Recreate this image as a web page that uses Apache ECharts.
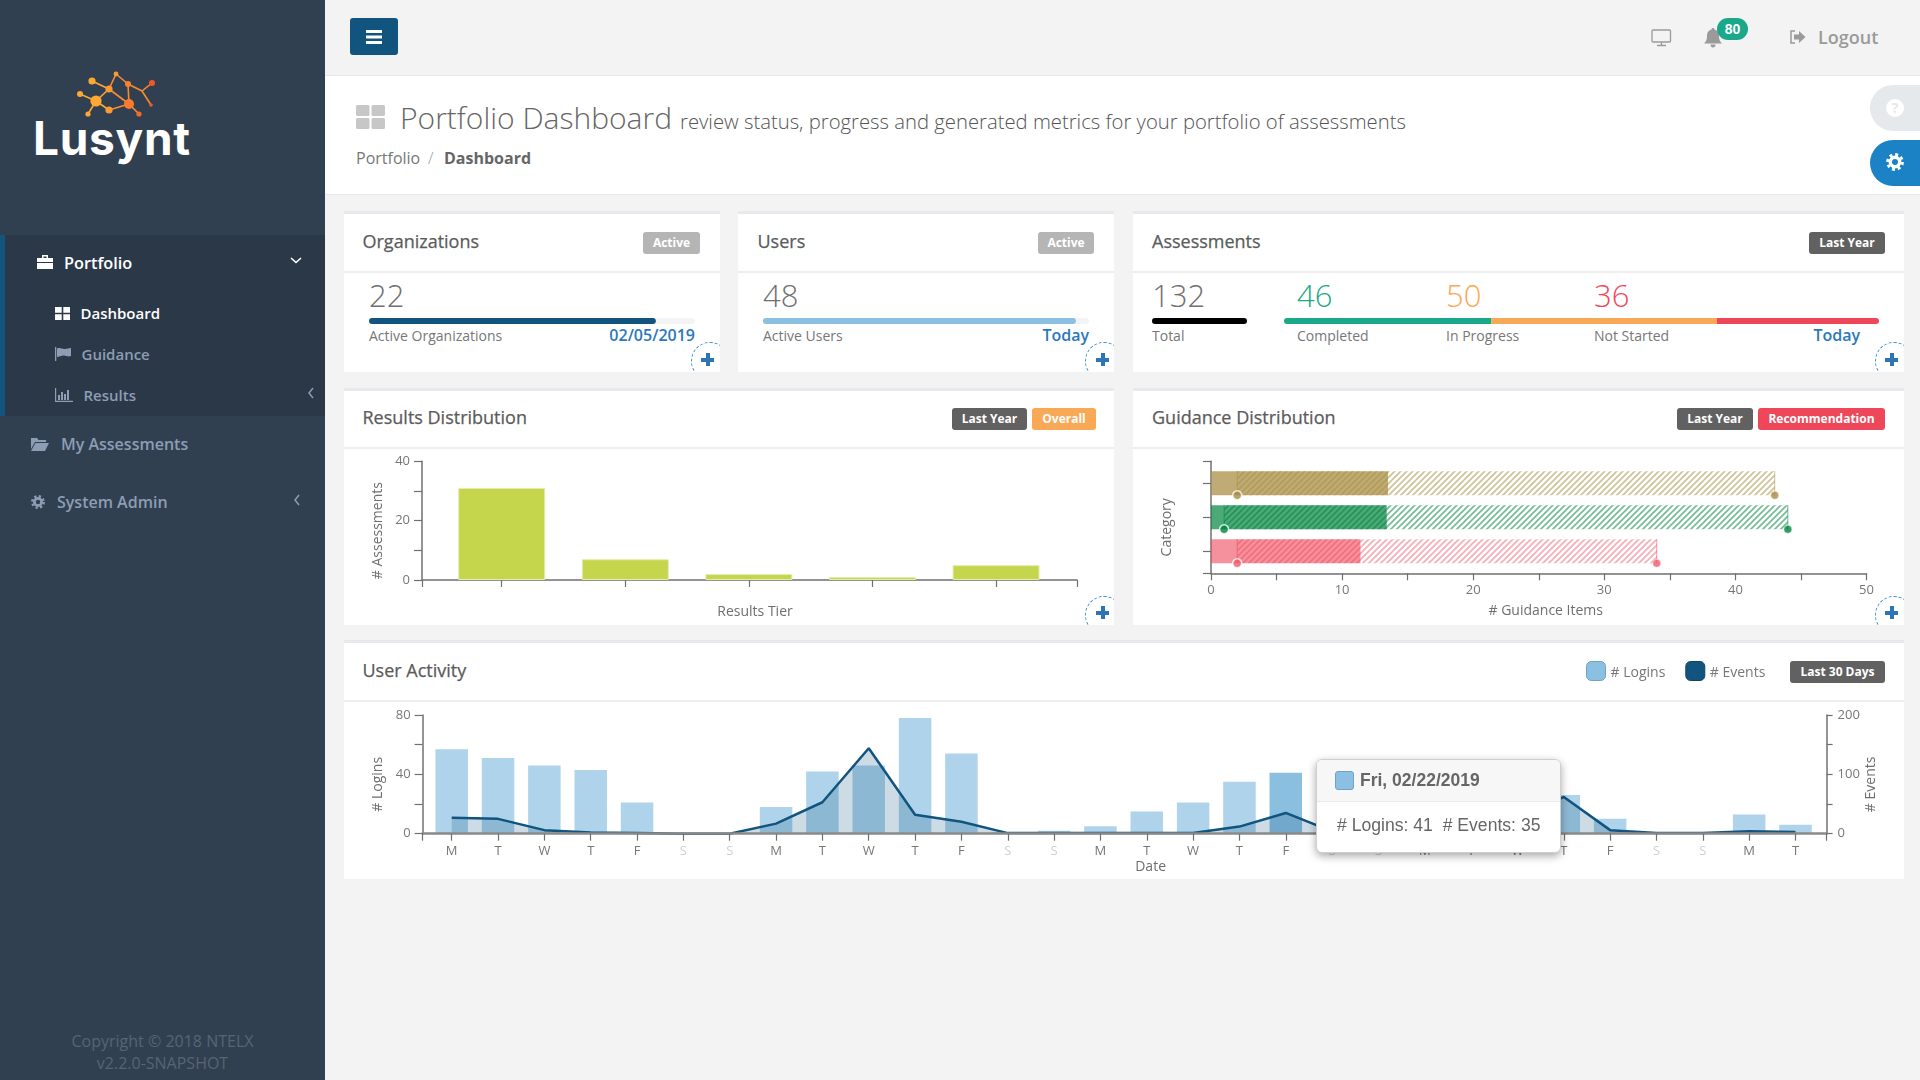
<!DOCTYPE html>
<html><head><meta charset="utf-8"><title>Portfolio Dashboard</title>
<script src="https://cdn.jsdelivr.net/npm/echarts@6/dist/echarts.min.js"></script>
<style>
html,body{margin:0;padding:0;width:1920px;height:1080px;overflow:hidden;background:#f3f3f3;font-family:"Open Sans",sans-serif;color:#666}
.a{position:absolute}
.t{position:absolute;white-space:nowrap;line-height:1;transform:translateY(-50%)}
.card{position:absolute;background:#fff;border-top:3px solid #e8e9ec;overflow:hidden;box-sizing:border-box}
.card .div{position:absolute;left:0;right:0;height:2px;background:#eeeeee}
.plus{position:absolute;width:38px;height:38px;border:1px dashed #3a8fc9;border-radius:50%;box-sizing:border-box}
.plusg{position:absolute;width:13px;height:13px}
.plusg:before,.plusg:after{content:"";position:absolute;background:#2d75b6}
.plusg:before{left:0;right:0;top:5px;height:3.5px}
.plusg:after{top:0;bottom:0;left:5px;width:3.5px}
.badge{position:absolute;height:22px;line-height:21px;border-radius:3px;color:#fff;font-weight:700;font-size:12px;text-align:center;box-sizing:border-box}
.h{font-size:18px;font-weight:400;color:#5b5b5b;-webkit-text-stroke:.25px #5b5b5b}
.big{font-size:31px;font-weight:300;color:#707070}
.lab{font-size:14px;color:#777}
.link{font-size:16px;font-weight:600;color:#2a78bd}
.nav{color:#8d9db4;font-weight:600;font-size:16px}
#chart{position:absolute;left:0;top:0;width:1920px;height:1080px}
</style></head><body>

<!-- sidebar -->
<div class="a" style="left:0;top:0;width:325px;height:1080px;background:#314051"></div>
<div class="a" style="left:0;top:235px;width:325px;height:181px;background:#2a3848;border-left:5px solid #11557f;box-sizing:border-box"></div>
<svg class="a" style="left:0;top:0" width="325" height="170">
<g stroke-width="1.6" fill="none" transform="translate(0,3)">
<path stroke="#ffa733" d="M92 78L109 86M80 91L96 98M96 98L109 86M96 98L88 111M96 98L109 107"/>
<path stroke="#fb8a30" d="M109 107L129 101M129 101L139 111M109 86L116 71M116 71L128 81M109 86L129 101M128 81L129 101M128 81L142 88M142 88L152 80M142 88L151 102"/>
</g>
<g transform="translate(0,3)"><circle cx="92" cy="78" r="3.6" fill="#ffa733"/><circle cx="80" cy="91" r="3" fill="#ffa733"/><circle cx="96" cy="98" r="5.6" fill="#ffa733"/><circle cx="88" cy="111" r="2.6" fill="#ffa733"/><circle cx="109" cy="86" r="3.6" fill="#fb9a33"/><circle cx="116" cy="71" r="2.4" fill="#fb9a33"/><circle cx="128" cy="81" r="3" fill="#fb8030"/><circle cx="129" cy="101" r="5" fill="#fb7a30"/><circle cx="109" cy="107" r="3.6" fill="#fb9a33"/><circle cx="139" cy="111" r="2.6" fill="#f56a2c"/><circle cx="152" cy="80" r="3" fill="#f4552b"/><circle cx="151" cy="102" r="1.8" fill="#f4552b"/></g>
</svg>
<div class="t" style="left:33px;top:138px;font-family:Inter,sans-serif;font-weight:700;font-size:46px;color:#fff;letter-spacing:.7px">Lusynt</div>

<svg class="a" style="left:36px;top:254px" width="18" height="16"><path fill="#fff" d="M1 4h16v4H1zM1 9h16v6H1zM6 4V1h6v3h-1.5V2.5h-3V4z"/></svg>
<div class="t nav" style="left:64px;top:263px;color:#fff;font-size:16.3px">Portfolio</div>
<svg class="a" style="left:290px;top:256px" width="12" height="10"><path d="M1 2l5 4.5L11 2" fill="none" stroke="#fff" stroke-width="1.6"/></svg>
<svg class="a" style="left:55px;top:307px" width="15" height="13"><path fill="#fff" d="M0 0h6.7v5.7H0zM8.3 0H15v5.7H8.3zM0 7.3h6.7V13H0zM8.3 7.3H15V13H8.3z"/></svg>
<div class="t nav" style="left:80.5px;top:313px;color:#fff;font-size:15px">Dashboard</div>
<svg class="a" style="left:55px;top:347px" width="16" height="14"><path fill="#8d9db4" d="M0 0h1.3v14H0zM2 1.5c4-1.5 5 1.5 9.500 .3L16 1v8c-4 1.500-5-1.500-9.500 0L2 10z"/></svg>
<div class="t nav" style="left:81.5px;top:354px;font-size:15px">Guidance</div>
<svg class="a" style="left:55px;top:388px" width="18" height="14"><path fill="#8d9db4" d="M0 0h1.200v12.800H18V14H0zM3 7h2v5H3zM6 4h2v8H6zM9 6h2v6H9zM12 2h2v10h-2z"/></svg>
<div class="t nav" style="left:83.5px;top:395px;font-size:15px">Results</div>
<svg class="a" style="left:307px;top:387px" width="8" height="12"><path d="M6 1L2 6l4 5" fill="none" stroke="#8d9db4" stroke-width="1.500"/></svg>
<svg class="a" style="left:31px;top:436px" width="18" height="15"><path fill="#8d9db4" d="M0 2h6l1.500 2H15v2H4L0 13zM4.500 7H18l-4 8H0z"/></svg>
<div class="t nav" style="left:61px;top:444px">My Assessments</div>
<svg class="a" style="left:31px;top:495px" width="14" height="14"><circle cx="7" cy="7" r="3.600" fill="none" stroke="#8d9db4" stroke-width="2.800"/><circle cx="7" cy="7" r="5.800" fill="none" stroke="#8d9db4" stroke-width="2.300" stroke-dasharray="2.280 2.280"/></svg>
<div class="t nav" style="left:57px;top:502px">System Admin</div>
<svg class="a" style="left:293px;top:494px" width="8" height="12"><path d="M6 1L2 6l4 5" fill="none" stroke="#8d9db4" stroke-width="1.500"/></svg>
<div class="t" style="left:0;width:325px;text-align:center;top:1041px;font-size:16px;color:#566474">Copyright © 2018 NTELX</div>
<div class="t" style="left:0;width:325px;text-align:center;top:1063px;font-size:16px;color:#566474">v2.2.0-SNAPSHOT</div>

<!-- top bar -->
<div class="a" style="left:350px;top:18px;width:48px;height:37px;background:#11557f;border-radius:3px"></div>
<div class="a" style="left:366px;top:30px;width:16px;height:3px;background:#fff;box-shadow:0 5.500px 0 #fff,0 11px 0 #fff"></div>
<svg class="a" style="left:1651px;top:29px" width="21" height="18"><rect x="1" y="1" width="18.500" height="12" rx="1" fill="none" stroke="#9a9a9a" stroke-width="1.300"/><path d="M6 16.500h9M10.500 13v3" stroke="#9a9a9a" stroke-width="1.300"/></svg>
<svg class="a" style="left:1704px;top:28px" width="18" height="20"><path fill="#9a9a9a" d="M9 0c1 0 1.500 .6 1.500 1.500C14 2.500 15 5 15 8c0 4 1 5.500 3 7.500H0C2 13.500 3 12 3 8c0-3 1-5.500 4.500-6.500C7.500 .6 8 0 9 0zM6.500 16.500h5c0 1.800-1 3-2.500 3s-2.500-1.200-2.500-3z"/></svg>
<div class="a" style="left:1717px;top:18px;width:31px;height:22px;border-radius:11px;background:#1aa88a;color:#fff;font-family:'Liberation Sans',sans-serif;font-weight:700;font-size:14px;line-height:22px;text-align:center">80</div>
<svg class="a" style="left:1789px;top:30px" width="17" height="14"><path d="M6 1H2v12h4" fill="none" stroke="#9a9a9a" stroke-width="1.500"/><path fill="#9a9a9a" d="M5 4.500h5V1l6.500 6-6.500 6V9.500H5z"/></svg>
<div class="t" style="left:1818px;top:37px;font-size:18px;font-weight:600;color:#9a9a9a">Logout</div>

<!-- page head -->
<div class="a" style="left:325px;top:75px;width:1595px;height:120px;background:#fff;border-top:1px solid #e8e8e8;border-bottom:1px solid #e8e8e8;box-sizing:border-box"></div>
<svg class="a" style="left:356px;top:105px" width="29" height="24"><g fill="#c7c7c7"><rect width="13.500" height="11" rx="1.500"/><rect x="15.500" width="13.500" height="11" rx="1.500"/><rect y="13" width="13.500" height="11" rx="1.500"/><rect x="15.500" y="13" width="13.500" height="11" rx="1.500"/></g></svg>
<div class="t" style="left:400px;top:118px;font-size:30px;font-weight:300;color:#666">Portfolio Dashboard</div>
<div class="t" style="left:680px;top:121px;font-size:20.27px;font-weight:300;color:#555">review status, progress and generated metrics for your portfolio of assessments</div>
<div class="t" style="left:356px;top:158px;font-size:16px;font-weight:400;color:#777">Portfolio</div>
<div class="t" style="left:428px;top:158px;font-size:16px;font-weight:300;color:#999">/</div>
<div class="t" style="left:444px;top:158px;font-size:16px;font-weight:700;color:#666">Dashboard</div>
<div class="a" style="left:1870px;top:85px;width:50px;height:46px;background:#e6e9ec;border-radius:23px 0 0 23px"></div>
<div class="a" style="left:1886px;top:99px;width:18px;height:18px;border-radius:50%;background:#fff;color:#e6e9ec;font-weight:700;font-size:14px;line-height:18px;text-align:center">?</div>
<div class="a" style="left:1870px;top:140px;width:50px;height:46px;background:#1b82c6;border-radius:23px 0 0 23px"></div>
<svg class="a" style="left:1886px;top:153px" width="18" height="18"><circle cx="9" cy="9" r="4.700" fill="none" stroke="#fff" stroke-width="3.400"/><circle cx="9" cy="9" r="7.500" fill="none" stroke="#fff" stroke-width="2.800" stroke-dasharray="2.950 2.940"/></svg>

<!-- cards -->
<div class="card" style="left:344px;top:211px;width:376px;height:161px"><div class="div" style="top:57px"></div><div class="plus" style="left:347px;top:128px"></div><div class="plusg" style="left:357px;top:139px"></div></div>
<div class="card" style="left:738px;top:211px;width:376px;height:161px"><div class="div" style="top:57px"></div><div class="plus" style="left:347px;top:128px"></div><div class="plusg" style="left:358px;top:139px"></div></div>
<div class="card" style="left:1133px;top:211px;width:771px;height:161px"><div class="div" style="top:57px"></div><div class="plus" style="left:742px;top:128px"></div><div class="plusg" style="left:752px;top:139px"></div></div>
<div class="card" style="left:344px;top:388px;width:770px;height:237px"><div class="div" style="top:56px"></div><div class="plus" style="left:741px;top:205px"></div><div class="plusg" style="left:752px;top:215px"></div></div>
<div class="card" style="left:1133px;top:388px;width:771px;height:237px"><div class="div" style="top:56px"></div><div class="plus" style="left:742px;top:205px"></div><div class="plusg" style="left:752px;top:215px"></div></div>
<div class="card" style="left:344px;top:640px;width:1560px;height:239px"><div class="div" style="top:57px"></div></div>

<div class="t h" style="left:362.5px;top:241px">Organizations</div>
<div class="badge" style="left:643px;top:232px;width:57px;background:#b5b5b5">Active</div>
<div class="t big" style="left:369px;top:295px">22</div>
<div class="t lab" style="left:369px;top:336px">Active Organizations</div>
<div class="t link" style="right:1225px;top:335px">02/05/2019</div>

<div class="t h" style="left:757.5px;top:241px">Users</div>
<div class="badge" style="left:1038px;top:232px;width:56px;background:#b5b5b5">Active</div>
<div class="t big" style="left:763px;top:295px">48</div>
<div class="t lab" style="left:763px;top:336px">Active Users</div>
<div class="t link" style="right:831px;top:335px">Today</div>

<div class="t h" style="left:1152px;top:241px">Assessments</div>
<div class="badge" style="left:1809px;top:232px;width:76px;background:#616161">Last Year</div>
<div class="t big" style="left:1152px;top:295px">132</div>
<div class="t lab" style="left:1152px;top:336px">Total</div>
<div class="t big" style="left:1297px;top:295px;color:#1aa88a">46</div>
<div class="t lab" style="left:1297px;top:336px">Completed</div>
<div class="t big" style="left:1446px;top:295px;color:#f9a956">50</div>
<div class="t lab" style="left:1446px;top:336px">In Progress</div>
<div class="t big" style="left:1594px;top:295px;color:#ef475a">36</div>
<div class="t lab" style="left:1594px;top:336px">Not Started</div>
<div class="t link" style="right:60px;top:335px">Today</div>

<div class="t h" style="left:362.5px;top:417px">Results Distribution</div>
<div class="badge" style="left:952px;top:408px;width:75px;background:#616161">Last Year</div>
<div class="badge" style="left:1032px;top:408px;width:64px;background:#f9a956">Overall</div>
<div class="t h" style="left:1152px;top:417px">Guidance Distribution</div>
<div class="badge" style="left:1677px;top:408px;width:76px;background:#616161">Last Year</div>
<div class="badge" style="left:1758px;top:408px;width:127px;background:#ef475a">Recommendation</div>
<div class="t h" style="left:362.5px;top:670px">User Activity</div>
<div class="badge" style="left:1790px;top:661px;width:95px;background:#616161">Last 30 Days</div>

<div id="chart"></div>
<script>
// ---- data ----
const orgActive = [22], orgTotal = 25;
const userActive = [48], userTotal = 50;
const assessmentTotal = [132];
const assessmentCompleted = [46];
const assessmentInProgress = [50];
const assessmentNotStarted = [36];

const resultTiers = [0, 1, 2, 3, 4];
const resultCounts = [31, 7, 2, 1, 5];

const guidanceCategories = ['Category A', 'Category B', 'Category C'];
const guidanceSolid = [13.5, 13.4, 11.4];
const guidanceRangeStart = [2, 1, 2];
const guidanceRangeEnd = [43, 44, 34];
const guidanceColors = ['169,143,68', '0,133,62', '239,71,90'];
const guidanceSolidAlpha = [.75, .7, .6];
const guidanceHatchAlpha = [.55, .55, .45];
const guidanceDots = ['#a68c43', '#00853e', '#ef5a6e'];

const dayLetters = ['M','T','W','T','F','S','S','M','T','W','T','F','S','S','M','T','W','T','F','S','S','M','T','W','T','F','S','S','M','T'];
const dayDates = ['02/04/2019','02/05/2019','02/06/2019','02/07/2019','02/08/2019','02/09/2019','02/10/2019','02/11/2019','02/12/2019','02/13/2019','02/14/2019','02/15/2019','02/16/2019','02/17/2019','02/18/2019','02/19/2019','02/20/2019','02/21/2019','02/22/2019','02/23/2019','02/24/2019','02/25/2019','02/26/2019','02/27/2019','02/28/2019','03/01/2019','03/02/2019','03/03/2019','03/04/2019','03/05/2019'];
const logins = [57,51,46,43,21,0,0,18,42,46,78,54,1,2,5,15,21,35,41,0,0,3,10,20,26,10,0,0,13,6];
const events = [27,25,6,2,1,0,0,17,53,144,32,20,1,1,1,1,1,12,35,4,0,0,5,25,62,6,1,1,4,3];
const focusDay = 18;

// ---- chart ----
const AX = '#707070', TXT = '#777';
const chart = echarts.init(document.getElementById('chart'), null, {renderer:'canvas', width:1920, height:1080});

function hatch(rgb,alpha){
  const c = document.createElement('canvas'); c.width = c.height = 6;
  const g = c.getContext('2d');
  g.strokeStyle = 'rgba(' + rgb + ',' + alpha + ')'; g.lineWidth = 1.7;
  [[-6,6,6,-6],[0,6,6,0],[0,12,12,0]].forEach(l => {g.beginPath(); g.moveTo(l[0],l[1]); g.lineTo(l[2],l[3]); g.stroke();});
  return {image:c, repeat:'repeat'};
}
const nameFont = {color:'#6f6f6f', fontFamily:'Open Sans', fontSize:14};
const labFont = {color:TXT, fontFamily:'Open Sans', fontSize:13};
const line = (w,c) => ({show:true, onZero:false, lineStyle:{color:c||AX, width:w||1.5}});
const tick = (len,vals) => { const t = {show:true, length:len||7, lineStyle:{color:AX, width:1.2}}; if(vals) t.customValues = vals; return t; };
const hiddenVal = (grid,max) => ({type:'value', gridIndex:grid, min:0, max:max, show:false, splitLine:{show:false}});
const hiddenCat = (grid,data,inv) => ({type:'category', gridIndex:grid, data:data, show:false, inverse:!!inv});

const resTicks = [-0.645].concat(resultTiers, [4.655]);
const dayIdx = dayLetters.map((d,i) => i);
const dayTicks = [-0.628].concat(dayIdx, [29.671]);
const guidTicks = [0, 0.64, 1.64, 2.64, 112/34];

const grids = [
  {left:422,   top:461.3, width:655,   height:118.7},   // 0 results
  {left:1211,  top:461.3, width:655.5, height:112},     // 1 guidance frame
  {left:1211,  top:466.3, width:655.5, height:102},     // 2 guidance bars
  {left:422.6, top:715,   width:1404,  height:118.7},   // 3 activity
  {left:369,   top:318,   width:326,   height:6},       // 4 organizations
  {left:763,   top:318,   width:326,   height:6},       // 5 users
  {left:1152,  top:318,   width:95,    height:6},       // 6 total
  {left:1284,  top:318,   width:595,   height:6}        // 7 assessment status
];

const xAxes = [
  {type:'value', gridIndex:0, min:-0.645, max:4.655, splitLine:{show:false}, axisLine:line(), axisTick:tick(7,resTicks), axisLabel:{show:false},
   name:'Results Tier', nameLocation:'middle', nameGap:25, nameTextStyle:Object.assign({padding:[0,0,0,11]},nameFont)},
  {type:'value', gridIndex:1, min:0, max:50, interval:5, splitLine:{show:false}, axisLine:line(), axisTick:tick(7), z:4,
   axisLabel:Object.assign({margin:10, formatter:v => v%10===0 ? String(v) : ''},labFont),
   name:'# Guidance Items', nameLocation:'middle', nameGap:31, nameTextStyle:Object.assign({padding:[0,0,0,14]},nameFont)},
  hiddenVal(2,50),
  {type:'value', gridIndex:3, min:-0.628, max:29.671, splitLine:{show:false}, axisLine:line(2.5,'#8a8a8a'), axisTick:tick(7,dayTicks), z:4,
   axisLabel:{customValues:dayIdx, margin:11, fontFamily:'Open Sans', fontSize:13, formatter:v => dayLetters[v],
              color:(v) => (dayLetters[v]==='S' ? '#d0d0d0' : TXT)},
   name:'Date', nameLocation:'middle', nameGap:26, nameTextStyle:Object.assign({padding:[0,0,0,52]},nameFont)},
  hiddenVal(4,orgTotal), hiddenVal(5,userTotal), hiddenVal(6,assessmentTotal[0]), hiddenVal(7,assessmentTotal[0])
];
const yAxes = [
  {type:'value', gridIndex:0, min:0, max:40, interval:10, splitLine:{show:false}, axisLine:line(), axisTick:tick(8), z:4,
   axisLabel:Object.assign({margin:12, formatter:v => v%20===0 ? String(v) : ''},labFont),
   name:'# Assessments', nameLocation:'middle', nameGap:37, nameTextStyle:Object.assign({padding:[0,20,0,0]},nameFont)},
  {type:'value', gridIndex:1, min:0, max:112/34, inverse:true, splitLine:{show:false}, axisLine:line(), axisTick:tick(8,guidTicks), axisLabel:{show:false},
   name:'Category', nameLocation:'middle', nameGap:37, nameTextStyle:Object.assign({padding:[0,20,0,0]},nameFont)},
  hiddenCat(2,guidanceCategories,true),
  {type:'value', gridIndex:3, min:0, max:80, interval:20, splitLine:{show:false}, axisLine:line(), axisTick:tick(8), z:4,
   axisLabel:Object.assign({margin:12, formatter:v => v%40===0 ? String(v) : ''},labFont),
   name:'# Logins', nameLocation:'middle', nameGap:37, nameTextStyle:Object.assign({padding:[0,20,0,0]},nameFont)},
  {type:'value', gridIndex:3, position:'right', min:0, max:200, interval:50, splitLine:{show:false}, axisLine:line(), axisTick:tick(6), z:4,
   axisLabel:Object.assign({margin:11, formatter:v => v%100===0 ? String(v) : ''},labFont),
   name:'# Events', nameLocation:'middle', nameGap:37, nameRotate:90, nameMoveOverlap:false, nameTextStyle:Object.assign({padding:[0,20,0,0]},nameFont)},
  hiddenCat(4,['o']), hiddenCat(5,['u']), hiddenCat(6,['t']), hiddenCat(7,['s'])
];

const gx = 2, gy = 2; // guidance bars axis indices
const guidSeries = [
  {type:'bar', xAxisIndex:gx, yAxisIndex:gy, barWidth:24, barGap:'-100%', silent:true,
   data:guidanceSolid.map((v,i) => ({value:v, itemStyle:{color:'rgba('+guidanceColors[i]+','+guidanceSolidAlpha[i]+')'}}))},
  {type:'bar', xAxisIndex:gx, yAxisIndex:gy, barWidth:24, barGap:'-100%', stack:'range', silent:true,
   data:guidanceRangeStart, itemStyle:{color:'transparent'}},
  {type:'bar', xAxisIndex:gx, yAxisIndex:gy, barWidth:24, barGap:'-100%', stack:'range', silent:true,
   data:guidanceRangeEnd.map((e,i) => ({value:e-guidanceRangeStart[i], itemStyle:{color:hatch(guidanceColors[i],guidanceHatchAlpha[i])}}))},
  {type:'scatter', xAxisIndex:gx, yAxisIndex:gy, symbol:'rect', symbolSize:[1,24], silent:true, z:4,
   data:guidanceRangeStart.concat(guidanceRangeEnd).map((v,i) => ({value:[v,i%3], itemStyle:{color:'rgba('+guidanceColors[i%3]+',.7)'}}))},
  {type:'scatter', xAxisIndex:gx, yAxisIndex:gy, symbol:'circle', symbolSize:9, symbolOffset:[0,12], silent:true, z:5,
   data:guidanceRangeStart.map((v,i) => ({value:[v,i], itemStyle:{color:guidanceDots[i], borderColor:'#fff', borderWidth:1.5}}))},
  {type:'scatter', xAxisIndex:gx, yAxisIndex:gy, symbol:'circle', symbolSize:8, symbolOffset:[0,12], silent:true, z:5,
   data:guidanceRangeEnd.map((v,i) => ({value:[v,i], itemStyle:{color:guidanceDots[i], borderColor:'rgba(255,255,255,.6)', borderWidth:1}}))}
];
// grid g uses xAxis g and yAxis g+1 (the activity grid owns two y axes)
const progress = (g,val,color,rad,stack) => ({type:'bar', xAxisIndex:g, yAxisIndex:g+1, barWidth:6, silent:true, stack:stack,
   showBackground:!stack, backgroundStyle:{color:'#f4f4f4', borderRadius:3},
   data:val, itemStyle:{color:color, borderRadius:rad}});

chart.setOption({
  animation:false,
  grid:grids, xAxis:xAxes, yAxis:yAxes,
  legend:{left:1586, top:661, padding:0, itemWidth:19, itemHeight:19, itemGap:20, icon:'roundRect',
    formatter:'{n|{name}}',
    textStyle:{rich:{n:{color:'#777', fontFamily:'Open Sans', fontSize:14, padding:[5,0,0,0]}}}, selectedMode:false,
    data:[{name:'# Logins', itemStyle:{color:'#8cc0e2', borderColor:'#6fa3c6', borderWidth:1, opacity:1}},
          {name:'# Events', itemStyle:{color:'#11557f', borderColor:'#0d4468', borderWidth:1, opacity:1}}]},
  tooltip:{trigger:'item', alwaysShowContent:true, showContent:true, transitionDuration:0, confine:false, padding:0,
    position:[1316,759], backgroundColor:'#fff', borderColor:'#cfcfcf', borderWidth:1,
    extraCssText:'border-radius:6px;box-shadow:0 3px 9px rgba(0,0,0,.35);width:245px;height:94px;overflow:hidden;box-sizing:border-box;',
    formatter:p => {
      const i = p.dataIndex;
      return '<div style="height:41px;background:#f7f7f7;border-bottom:1px solid #ebebeb;font:700 17.5px Liberation Sans,sans-serif;color:#666;line-height:41px;white-space:nowrap">'
        + '<span style="display:inline-block;width:19px;height:19px;box-sizing:border-box;border-radius:3px;background:#8cc0e2;border:1px solid #6fa3c6;margin:0 6px 0 18px;vertical-align:-4px"></span>'
        + 'Fri, ' + dayDates[i] + '</div>'
        + '<div style="font:17.6px Liberation Sans,sans-serif;color:#666;line-height:46px;padding-left:20px;white-space:nowrap"># Logins: ' + logins[i] + '&nbsp;&nbsp;# Events: ' + events[i] + '</div>';
    }},
  series:[
    {name:'Results', type:'bar', xAxisIndex:0, yAxisIndex:0, barWidth:87, silent:true,
     data:resultCounts.map((v,i) => [resultTiers[i], v]),
     itemStyle:{color:'#c5d64d', borderColor:'#e4ecae', borderWidth:1}},
    {name:'# Logins', type:'bar', xAxisIndex:3, yAxisIndex:3, barWidth:32.5,
     data:logins.map((v,i) => ({value:[i,v], itemStyle:i===focusDay ? {color:'#8bbfe0'} : undefined})),
     itemStyle:{color:'rgba(140,192,226,.7)'}},
    {name:'# Events', type:'line', xAxisIndex:3, yAxisIndex:4, silent:true, showSymbol:false, symbol:'none', z:3,
     data:events.map((v,i) => [i,v]), lineStyle:{color:'#11557f', width:2.5}, itemStyle:{color:'#11557f'},
     areaStyle:{color:'rgba(17,85,127,.3)'}},
    ...guidSeries,
    progress(4,orgActive,'#11557f',3),
    progress(5,userActive,'#8cc0e2',3),
    progress(6,assessmentTotal,'#000',3),
    progress(7,assessmentCompleted,'#1aa88a',[3,0,0,3],'s'),
    progress(7,assessmentInProgress,'#f9a956',0,'s'),
    progress(7,assessmentNotStarted,'#ef475a',[0,3,3,0],'s')
  ]
});
chart.dispatchAction({type:'showTip', seriesIndex:1, dataIndex:focusDay});
</script>
</body></html>
